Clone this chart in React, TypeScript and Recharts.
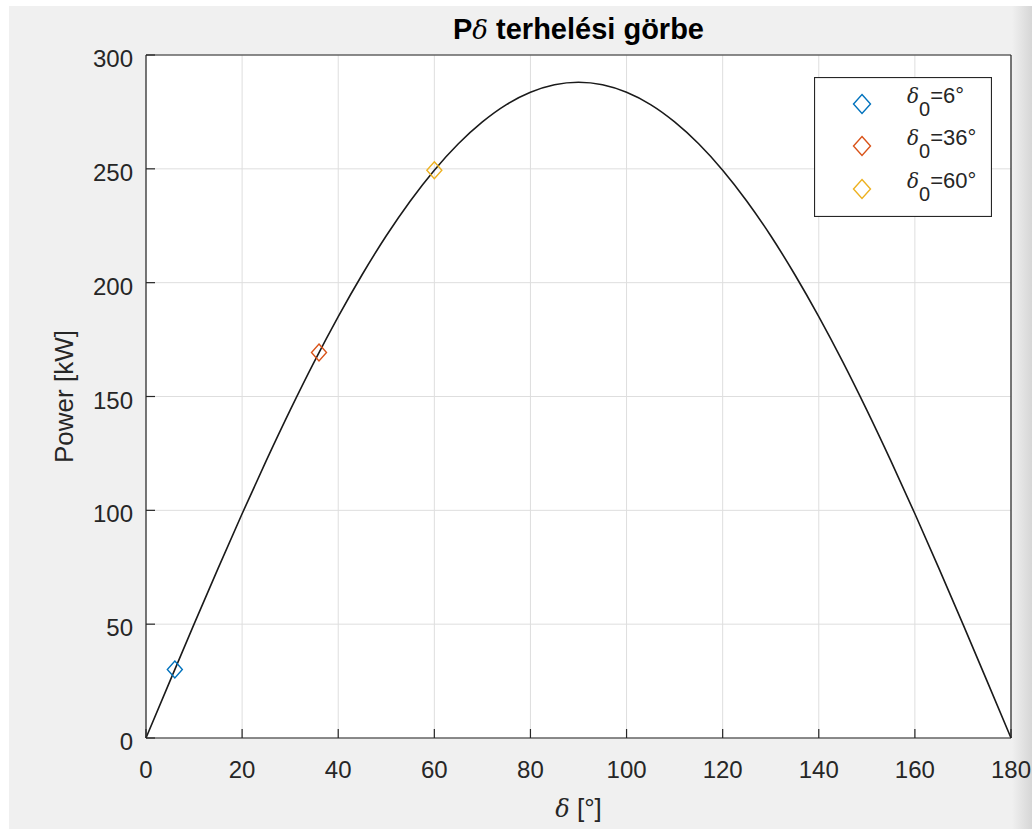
import React from 'react';
import { ComposedChart, Line, Scatter, XAxis, YAxis, CartesianGrid, Legend } from 'recharts';

// load angle [deg] and delivered power [kW] along the P-delta curve
const deltaDeg = [0, 5, 10, 15, 20, 25, 30, 35, 40, 45, 50, 55, 60, 65, 70, 75, 80, 85, 90,
  95, 100, 105, 110, 115, 120, 125, 130, 135, 140, 145, 150, 155, 160, 165, 170, 175, 180];
const powerKW = [0, 25.1, 50.0, 74.5, 98.5, 121.7, 144.0, 165.2, 185.1, 203.6, 220.6, 235.9, 249.4,
  261.0, 270.6, 278.2, 283.6, 286.9, 288.0, 286.9, 283.6, 278.2, 270.6, 261.0, 249.4, 235.9, 220.6,
  203.6, 185.1, 165.2, 144.0, 121.7, 98.5, 74.5, 50.0, 25.1, 0];

// operating points
const opDelta = [6, 36, 60];
const opPower = [30.1, 169.3, 249.4];
const opLabels = ['6°', '36°', '60°'];
const opColors = ['#0072BD', '#D95319', '#EDB120'];

const xTicks = [0, 20, 40, 60, 80, 100, 120, 140, 160, 180];
const yTicks = [0, 50, 100, 150, 200, 250, 300];

const curve = deltaDeg.map((d, i) => ({ x: d, y: powerKW[i] }));

const FONT = '"Liberation Sans", Arial, Helvetica, sans-serif';
const SERIF = '"DejaVu Serif", "Liberation Serif", serif';
const INK = '#262626';
const TICK_LEN = 9;

function Diamond({ cx, cy, color, w = 7.5, h = 8.5 }: { cx: number; cy: number; color: string; w?: number; h?: number }) {
  return (
    <polygon
      points={`${cx},${cy - h} ${cx + w},${cy} ${cx},${cy + h} ${cx - w},${cy}`}
      fill="none"
      stroke={color}
      strokeWidth={1.4}
    />
  );
}

// ticks point inward, like a boxed plot
function BottomTick({ x, y, payload }: any) {
  return (
    <g>
      <line x1={x} y1={y} x2={x} y2={y - TICK_LEN} stroke={INK} strokeWidth={1.2} />
      <text x={x} y={y + 40} textAnchor="middle" fontSize={24} fontFamily={FONT} fill={INK}>
        {payload.value}
      </text>
    </g>
  );
}

function TopTick({ x, y }: any) {
  return <line x1={x} y1={y} x2={x} y2={y + TICK_LEN} stroke={INK} strokeWidth={1.2} />;
}

function LeftTick({ x, y, payload }: any) {
  return (
    <g>
      <line x1={x} y1={y} x2={x + TICK_LEN} y2={y} stroke={INK} strokeWidth={1.2} />
      <text x={x - 13} y={y + 12} textAnchor="end" fontSize={24} fontFamily={FONT} fill={INK}>
        {payload.value}
      </text>
    </g>
  );
}

function RightTick({ x, y }: any) {
  return <line x1={x} y1={y} x2={x - TICK_LEN} y2={y} stroke={INK} strokeWidth={1.2} />;
}

function LegendBox() {
  const rows = [27, 69, 112];
  return (
    <svg width={178} height={140} style={{ display: 'block' }}>
      <rect x={0.5} y={0.5} width={177} height={139} fill="#fff" stroke={INK} strokeWidth={1.2} />
      {opLabels.map((lab, i) => (
        <g key={lab}>
          <Diamond cx={48} cy={rows[i]} color={opColors[i]} w={8.5} h={9.5} />
          <text x={93} y={rows[i] - 1} fontSize={22} fontFamily={FONT} fill={INK}>
            <tspan fontFamily={SERIF} fontStyle="italic" fontSize={20}>δ</tspan>
            <tspan dy={13} fontSize={20}>0</tspan>
            <tspan dy={-13}>={lab}</tspan>
          </text>
        </g>
      ))}
    </svg>
  );
}

export default function App() {
  return (
    <div style={{ position: 'absolute', left: 0, top: 0, width: 1032, height: 829, background: '#fff' }}>
      <div
        style={{
          position: 'absolute',
          left: 9,
          top: 6,
          width: 1023,
          height: 823,
          background: 'linear-gradient(to right, #f0f0f0 0, #f0f0f0 calc(100% - 20px), #d6d6d6 100%)',
        }}
      />
      <div style={{ position: 'absolute', left: 0, top: 0 }}>
        <ComposedChart width={1032} height={829} margin={{ top: 54, right: 20, bottom: 41, left: 66 }}>
          <CartesianGrid fill="#fff" stroke="#dedede" />
          <XAxis
            type="number"
            dataKey="x"
            domain={[0, 180]}
            ticks={xTicks}
            height={50}
            tickSize={0}
            tickMargin={0}
            tick={<BottomTick />}
            axisLine={{ stroke: INK, strokeWidth: 1.2 }}
            label={{
              content: ({ viewBox }: any) => (
                <text
                  x={viewBox.x + viewBox.width / 2}
                  y={viewBox.y + 79}
                  textAnchor="middle"
                  fontSize={26}
                  fontFamily={FONT}
                  fill={INK}
                >
                  <tspan fontFamily={SERIF} fontStyle="italic" fontSize={24}>δ</tspan>
                  <tspan> [°]</tspan>
                </text>
              ),
            }}
          />
          <XAxis
            xAxisId="top"
            orientation="top"
            type="number"
            domain={[0, 180]}
            ticks={xTicks}
            height={1}
            tickSize={0}
            tickMargin={0}
            tick={<TopTick />}
            axisLine={{ stroke: INK, strokeWidth: 1.2 }}
            label={{
              content: ({ viewBox }: any) => (
                <text
                  x={viewBox.x + viewBox.width / 2}
                  y={viewBox.y - 15}
                  textAnchor="middle"
                  fontSize={29}
                  fontWeight="bold"
                  fontFamily={FONT}
                  fill="#000"
                >
                  <tspan>P</tspan>
                  <tspan fontFamily={SERIF} fontStyle="italic" fontWeight="normal" fontSize={26}>δ</tspan>
                  <tspan> terhelési görbe</tspan>
                </text>
              ),
            }}
          />
          <YAxis
            type="number"
            domain={[0, 300]}
            ticks={yTicks}
            width={80}
            tickSize={0}
            tickMargin={0}
            tick={<LeftTick />}
            axisLine={{ stroke: INK, strokeWidth: 1.2 }}
            label={{
              content: ({ viewBox }: any) => {
                const cx = viewBox.x + 7;
                const cy = viewBox.y + viewBox.height / 2;
                return (
                  <text
                    x={cx}
                    y={cy}
                    transform={`rotate(-90, ${cx}, ${cy})`}
                    textAnchor="middle"
                    fontSize={26}
                    fontFamily={FONT}
                    fill={INK}
                  >
                    Power [kW]
                  </text>
                );
              },
            }}
          />
          <YAxis
            yAxisId="right"
            orientation="right"
            type="number"
            domain={[0, 300]}
            ticks={yTicks}
            width={1}
            tickSize={0}
            tickMargin={0}
            tick={<RightTick />}
            axisLine={{ stroke: INK, strokeWidth: 1.2 }}
          />
          <Line
            data={curve}
            dataKey="y"
            type="monotone"
            stroke="#1a1a1a"
            strokeWidth={1.6}
            dot={false}
            activeDot={false}
            isAnimationActive={false}
          />
          {opDelta.map((d, i) => (
            <Scatter
              key={d}
              name={`δ0=${opLabels[i]}`}
              data={[{ x: d, y: opPower[i] }]}
              dataKey="y"
              fill={opColors[i]}
              shape={(p: any) => <Diamond cx={p.cx} cy={p.cy} color={opColors[i]} />}
              isAnimationActive={false}
            />
          ))}
          <Legend
            layout="vertical"
            align="center"
            verticalAlign="middle"
            content={() => <LegendBox />}
            wrapperStyle={{ position: 'absolute', left: 814, top: 77, width: 178, height: 140 }}
          />
        </ComposedChart>
      </div>
    </div>
  );
}
